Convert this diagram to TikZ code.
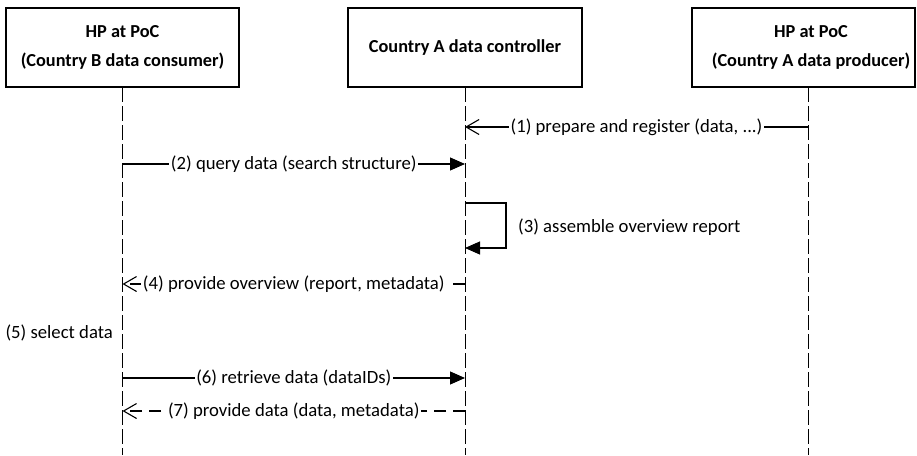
\documentclass[tikz,border=0pt]{standalone}
\usepackage{fontspec}
\setmainfont{Carlito}
\usetikzlibrary{arrows.meta}
\begin{document}
\begin{tikzpicture}[x=1pt,y=-1pt,
  every node/.style={font=\fontsize{18.7}{21}\selectfont},
  actor/.style={draw, line width=1.1pt, minimum height=79pt, inner sep=0pt},
  title/.style={font=\bfseries\fontsize{18.3}{29}\selectfont, align=center, inner sep=0pt},
  lifeline/.style={line width=1pt, dash pattern=on 15pt off 4pt},
  call/.style={line width=1.1pt, -{Triangle[length=15pt,width=13pt]}},
  async/.style={line width=1.1pt, -{Straight Barb[length=13pt,width=15pt]}},
  reply/.style={async, dash pattern=on 12pt off 7pt},
  lbl/.style={fill=white, inner sep=1.5pt}
]
\useasboundingbox (0,0) rectangle (917,455);

% participants
\node[actor, minimum width=233pt] (cons) at (122.5,47.5) {};
\node[title] (consT) at (122.5,47.5) {HP at PoC\\(Country B data consumer)};
\node[actor, minimum width=234pt] (ctrl) at (465,47.5) {};
\node[title] (ctrlT) at (465,47.5) {Country A data controller};
\node[actor, minimum width=223pt] (prod) at (803.5,47.5) {};
\node[title] (prodT) at (811,47.5) {HP at PoC\\(Country A data producer)};

% lifelines
\coordinate (consTop) at (122.5,87);
\coordinate (ctrlTop) at (465,87);
\coordinate (prodTop) at (808,87);
\coordinate (consEnd) at (122.5,455);
\coordinate (ctrlEnd) at (465,455);
\coordinate (prodEnd) at (808,455);
\draw[lifeline] (consTop) -- (consEnd);
\draw[lifeline] (ctrlTop) -- (ctrlEnd);
\draw[lifeline] (prodTop) -- (prodEnd);

% message end points
\coordinate (m1s) at (808,127);   \coordinate (m1e) at (465,127);
\coordinate (m2s) at (122.5,164); \coordinate (m2e) at (465,164);
\coordinate (m3s) at (465,203);   \coordinate (m3r) at (506,203);
\coordinate (m3e) at (465,248);
\coordinate (m4s) at (465,284);   \coordinate (m4e) at (122.5,284);
\coordinate (m6s) at (122.5,378); \coordinate (m6e) at (465,378);
\coordinate (m7s) at (465,411);   \coordinate (m7e) at (122.5,411);

% messages
\draw[async] (m1s) -- node[lbl] (t1) {(1) prepare and register (data, ...)} (m1e);
\draw[call] (m2s) -- node[lbl] (t2) {(2) query data (search structure)} (m2e);
\draw[call] (m3s) -- (m3r) |- (m3e);
\node[anchor=west, inner sep=0pt] (t3) at (518,227) {(3) assemble overview report};
\draw[reply] (m4s) -- node[lbl] (t4) {(4) provide overview (report, metadata)} (m4e);
\node[anchor=east, inner sep=0pt] (t5) at (113,333) {(5) select data};
\draw[call] (m6s) -- node[lbl] (t6) {(6) retrieve data (dataIDs)} (m6e);
\draw[reply] (m7s) -- node[lbl] (t7) {(7) provide data (data, metadata)} (m7e);
\end{tikzpicture}
\end{document}
